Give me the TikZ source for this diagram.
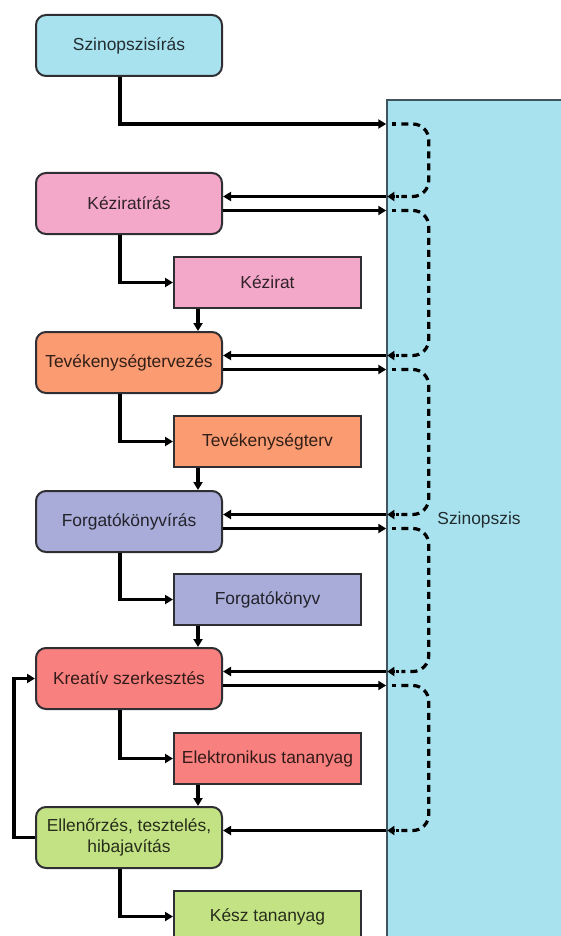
\documentclass[tikz,border=0pt]{standalone}
\usepackage{fontspec}
\setmainfont{Liberation Sans}
\usetikzlibrary{arrows.meta,calc}

\definecolor{blueF}{HTML}{A9E2EF}
\definecolor{pinkF}{HTML}{F3A8C9}
\definecolor{orangeF}{HTML}{FA9B72}
\definecolor{purpleF}{HTML}{A9ACD8}
\definecolor{redF}{HTML}{F8817F}
\definecolor{greenF}{HTML}{C3E284}
\definecolor{boxline}{HTML}{2E2E33}
\definecolor{synline}{HTML}{3E5560}

\begin{document}
\begin{tikzpicture}[x=1pt,y=-1pt,
  font=\fontsize{17.4pt}{20.7pt}\selectfont,
  stage/.style={draw=boxline, line width=2pt, rounded corners=10pt,
    minimum width=186pt, minimum height=61pt, inner sep=0pt, align=center,
    fill=#1, text=#1!20!black},
  product/.style={draw=boxline, line width=2pt,
    minimum width=187pt, minimum height=51pt, inner sep=0pt,
    fill=#1, text=#1!20!black},
  arr/.style={line width=3.2pt, -{Triangle[length=8pt,width=9pt]}},
  fb/.style={line width=3.2pt, dash pattern=on 7pt off 5pt, rounded corners=16pt},
  fbdot/.style={line width=3.2pt},
  fbtip/.style={line width=3.2pt, -{Triangle[length=7pt,width=9pt]}}]

\useasboundingbox (0,0) rectangle (561,936);

% shared synopsis column
\node[draw=synline, line width=1.5pt, fill=blueF, text=blueF!20!black,
      minimum width=184pt, minimum height=840pt, inner sep=0pt]
      (syn) at (479,520) {Szinopszis};

% work stages (rounded) and their products (square)
\node[stage=blueF]   (szw)  at (129,45.5)  {Szinopszisírás};
\node[stage=pinkF]   (kw)   at (129,203.5) {Kéziratírás};
\node[product=pinkF] (kez)  at (267.5,282.5) {Kézirat};
\node[stage=orangeF] (tvw)  at (129,362.5) {Tevékenységtervezés};
\node[product=orangeF] (tv) at (267.5,441.5) {Tevékenységterv};
\node[stage=purpleF] (fw)   at (129,521.5) {Forgatókönyvírás};
\node[product=purpleF] (fk) at (267.5,599.5) {Forgatókönyv};
\node[stage=redF]    (ksz)  at (129,678.5) {Kreatív szerkesztés};
\node[product=redF]  (el)   at (267.5,758.5) {Elektronikus tananyag};
\node[stage=greenF]  (ell)  at (129,837.5) {Ellenőrzés, tesztelés,\\hibajavítás};
\node[product=greenF] (kesz) at (267.5,916.5) {Kész tananyag};

% stage -> product
\foreach \s/\p in {kw/kez, tvw/tv, fw/fk, ksz/el, ell/kesz}
  \draw[arr] ([xshift=-9pt]\s.south) |- (\p.west);

% product -> next stage
\foreach \p/\s in {kez/tvw, tv/fw, fk/ksz, el/ell} {
  \coordinate (\p-out) at ([xshift=25pt]\p.south west);
  \draw[arr] (\p-out) -- (\p-out |- \s.north);
}

% synopsis handed over
\coordinate (o0) at (syn.west |- 0,124);
\draw[arr] ([xshift=-9pt]szw.south) |- (o0);

% exchanges with the synopsis column
\foreach \s/\n in {kw/1, tvw/2, fw/3, ksz/4} {
  \coordinate (i\n-s) at ([yshift=7pt]\s.east);
  \coordinate (o\n-s) at ([yshift=-7pt]\s.east);
  \coordinate (i\n) at (i\n-s -| syn.west);
  \coordinate (o\n) at (o\n-s -| syn.west);
  \draw[arr] (i\n) -- (i\n-s);
  \draw[arr] (o\n-s) -- (o\n);
}
\coordinate (i5-s) at ([yshift=7pt]ell.east);
\coordinate (i5) at (i5-s -| syn.west);
\draw[arr] (i5) -- (i5-s);

% feedback loop from testing back to editing
\draw[arr] (ell.west) -- ++(-21,0) |- (ksz.west);

% dash-dotted returns inside the synopsis column
\foreach \a/\b in {o0/i1, o1/i2, o2/i3, o3/i4, o4/i5} {
  \draw[fbdot] ($(\a)+(6,0)$) -- ($(\a)+(9.5,0)$);
  \draw[fb] ($(\a)+(15,0)$) -- ($(\a)+(42.5,0)$) -- ($(\b)+(42.5,0)$) -- ($(\b)+(15,0)$);
  \draw[fbdot] ($(\b)+(10,0)$) -- ($(\b)+(13,0)$);
  \draw[fbtip] ($(\b)+(8,0)$) -- ($(\b)+(1,0)$);
}

\end{tikzpicture}
\end{document}
